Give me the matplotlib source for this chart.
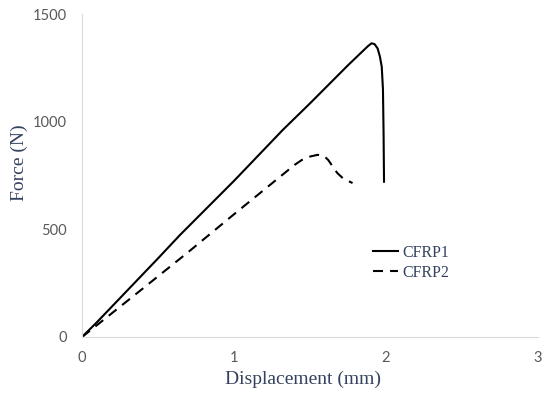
import matplotlib.pyplot as plt

# CFRP1 (solid)
cfrp1_disp = [0, 0.1, 0.5, 0.645, 1.0, 1.32, 1.5, 1.75, 1.88, 1.905, 1.925, 1.945, 1.96, 1.972, 1.98, 1.984, 1.987]
cfrp1_force = [0, 70, 365, 474, 725, 961, 1085, 1262, 1350, 1364, 1360, 1340, 1302, 1255, 1150, 950, 721]

# CFRP2 (dashed)
cfrp2_disp = [0, 0.1, 0.4, 0.7, 1.0, 1.2, 1.4, 1.446, 1.5, 1.55, 1.59, 1.62, 1.65, 1.68, 1.72, 1.78]
cfrp2_force = [0, 56, 225, 395, 570, 685, 800, 822, 838, 846, 842, 822, 791, 761, 735, 715]

label_color = '#34425e'
tick_color = '#595959'

fig = plt.figure(figsize=(5.5, 3.97), dpi=100)
ax = fig.add_axes([82/550, 1 - 337/397, 456/550, 323/397])

ax.plot(cfrp1_disp, cfrp1_force, color='black', lw=1.5, label='CFRP1',
        solid_joinstyle='round')
ax.plot(cfrp2_disp, cfrp2_force, color='black', lw=1.5, label='CFRP2',
        dashes=(4.8, 3.4))

ax.set_xlim(0, 3)
ax.set_ylim(0, 1500)
ax.set_xticks([0, 1, 2, 3])
ax.set_yticks([0, 500, 1000, 1500])

for s in ['top', 'right']:
    ax.spines[s].set_visible(False)
for s in ['left', 'bottom']:
    ax.spines[s].set_color('#d9d9d9')
    ax.spines[s].set_linewidth(0.8)

ax.tick_params(length=0, labelsize=10.5, labelcolor=tick_color)
ax.tick_params(axis='y', pad=11)
ax.tick_params(axis='x', pad=10)
for lbl in ax.get_xticklabels() + ax.get_yticklabels():
    lbl.set_family('Lato')

ax.set_xlabel('Displacement (mm)', family='Liberation Serif', fontsize=14,
              color=label_color)
ax.set_ylabel('Force (N)', family='Liberation Serif', fontsize=14,
              color=label_color)
ax.xaxis.set_label_coords(0.4836, -0.103)
ax.yaxis.set_label_coords(-0.118, 0.539)

leg = ax.legend(loc='center left', bbox_to_anchor=(0.638, 0.229), frameon=False,
                prop={'family': 'Liberation Serif', 'size': 11.5},
                handlelength=1.55, handletextpad=0.3, labelspacing=0.25,
                borderpad=0, borderaxespad=0)
for t in leg.get_texts():
    t.set_color(label_color)

fig.savefig('out.png', dpi=100)
